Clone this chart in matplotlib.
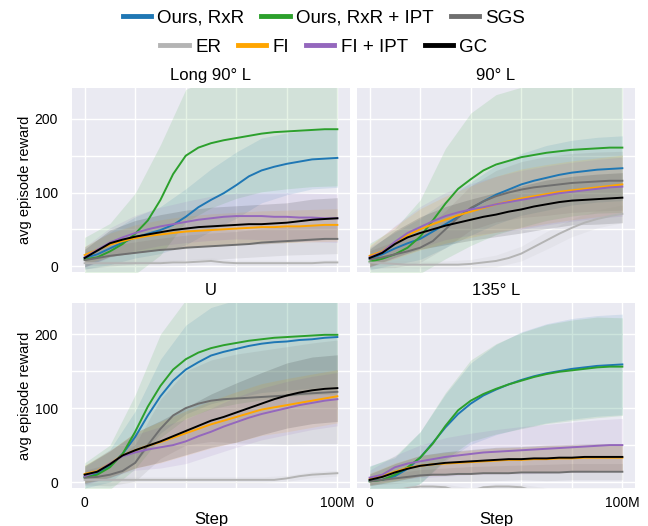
import matplotlib
matplotlib.use('Agg')
import matplotlib.pyplot as plt
from matplotlib.lines import Line2D
import numpy as np

plt.rcParams['font.family'] = ['Liberation Sans', 'DejaVu Sans']

# Steps in millions
STEPS = [0, 5, 10, 15, 20, 25, 30, 35, 40, 45, 50, 55, 60, 65, 70, 75, 80, 85, 90, 95, 100]
STD_STEPS = [0, 10, 20, 30, 40, 50, 60, 70, 80, 90, 100]

PANELS = ['Long 90° L', '90° L', 'U', '135° L']
METHODS = ['Ours, RxR', 'Ours, RxR + IPT', 'SGS', 'ER', 'FI', 'FI + IPT', 'GC']
COLORS = ['#1f77b4', '#2ca02c', '#6f6f6f', '#b4b4b4', '#ffa500', '#9467bd', '#000000']

# ─── Long 90° L ─────────────────────────────────────────────
LONG_RXR = [11, 16, 24, 32, 39, 44, 49, 56, 67, 80, 90, 99, 110, 122, 130, 135, 139, 142, 145, 146, 147]
LONG_IPT = [9, 12, 20, 30, 44, 62, 90, 125, 150, 161, 167, 171, 174, 177, 180, 182, 183, 184, 185, 186, 186]
LONG_SGS = [8, 11, 14, 16, 18, 20, 22, 23, 25, 26, 27, 28, 29, 30, 32, 33, 34, 35, 36, 37, 37]
LONG_ER = [4, 4, 4, 4, 4, 4, 4, 5, 5, 6, 7, 5, 4, 4, 4, 4, 4, 4, 4, 5, 5]
LONG_FI = [15, 22, 29, 34, 38, 41, 43, 45, 47, 48, 49, 50, 51, 52, 53, 53, 54, 54, 55, 56, 56]
LONG_FIIPT = [12, 22, 32, 39, 45, 50, 54, 57, 60, 63, 65, 67, 68, 68, 68, 67, 67, 66, 66, 65, 65]
LONG_GC = [11, 21, 31, 36, 40, 43, 46, 49, 51, 53, 54, 55, 56, 57, 57, 58, 59, 61, 63, 64, 65]

LONG_RXR_SD = [15, 22, 28, 32, 38, 42, 45, 44, 42, 40, 40]
LONG_IPT_SD = [30, 38, 55, 75, 90, 88, 82, 79, 78, 77, 77]
LONG_SGS_SD = [12, 14, 15, 16, 17, 18, 18, 19, 19, 20, 20]
LONG_ER_SD = [4, 4, 4, 4, 4, 4, 4, 4, 4, 4, 4]
LONG_FI_SD = [12, 16, 18, 20, 21, 22, 22, 22, 22, 22, 22]
LONG_FIIPT_SD = [14, 20, 24, 26, 28, 30, 31, 32, 33, 33, 33]
LONG_GC_SD = [12, 18, 22, 24, 25, 26, 26, 27, 27, 28, 28]

# ─── 90° L ──────────────────────────────────────────────────
L90_RXR = [10, 16, 24, 31, 37, 47, 57, 67, 78, 88, 97, 104, 111, 116, 120, 124, 127, 129, 131, 132, 133]
L90_IPT = [6, 10, 16, 25, 40, 62, 85, 105, 118, 130, 138, 143, 148, 151, 154, 156, 158, 159, 160, 161, 161]
L90_SGS = [9, 12, 16, 20, 25, 34, 50, 66, 79, 88, 95, 100, 104, 107, 109, 111, 113, 114, 115, 116, 116]
L90_ER = [5, 4, 3, 2, 2, 2, 2, 2, 3, 5, 7, 11, 17, 26, 35, 44, 52, 59, 64, 68, 71]
L90_FI = [14, 20, 32, 42, 50, 57, 63, 69, 74, 79, 84, 88, 92, 95, 98, 101, 103, 105, 107, 109, 111]
L90_FIIPT = [12, 19, 33, 45, 53, 61, 68, 73, 77, 80, 84, 87, 90, 93, 96, 99, 101, 103, 105, 107, 108]
L90_GC = [11, 18, 30, 39, 45, 50, 55, 59, 63, 67, 70, 74, 77, 81, 84, 87, 89, 90, 91, 92, 93]

L90_RXR_SD = [15, 22, 28, 32, 36, 40, 42, 44, 44, 44, 44]
L90_IPT_SD = [25, 35, 50, 75, 90, 95, 95, 92, 90, 88, 88]
L90_SGS_SD = [12, 18, 20, 25, 30, 35, 38, 40, 40, 40, 40]
L90_ER_SD = [5, 5, 5, 5, 6, 8, 10, 12, 12, 12, 12]
L90_FI_SD = [14, 22, 28, 32, 35, 38, 40, 40, 40, 40, 40]
L90_FIIPT_SD = [14, 22, 28, 32, 35, 38, 40, 40, 40, 40, 40]
L90_GC_SD = [12, 18, 22, 26, 28, 30, 32, 33, 33, 34, 34]

# ─── U ──────────────────────────────────────────────────────
U_RXR = [7, 12, 22, 38, 61, 90, 116, 137, 152, 162, 171, 176, 180, 184, 187, 189, 190, 192, 193, 195, 196]
U_IPT = [6, 10, 20, 38, 68, 102, 130, 152, 166, 175, 181, 185, 188, 191, 193, 195, 196, 197, 198, 199, 199]
U_SGS = [6, 7, 10, 15, 26, 50, 72, 90, 100, 106, 110, 112, 113, 114, 115, 116, 117, 119, 120, 121, 122]
U_ER = [3, 3, 3, 3, 3, 3, 3, 3, 3, 3, 3, 3, 3, 3, 3, 3, 5, 8, 10, 11, 12]
U_FI = [11, 15, 25, 36, 43, 49, 54, 60, 66, 72, 78, 83, 88, 93, 98, 101, 104, 107, 110, 113, 116]
U_FIIPT = [8, 14, 25, 35, 40, 44, 47, 50, 55, 62, 68, 75, 81, 87, 92, 96, 100, 104, 107, 110, 112]
U_GC = [10, 14, 24, 36, 43, 49, 55, 62, 69, 76, 83, 88, 94, 100, 106, 112, 117, 121, 124, 126, 127]

U_RXR_SD = [15, 22, 35, 50, 60, 65, 66, 66, 66, 66, 66]
U_IPT_SD = [20, 30, 50, 70, 80, 82, 82, 82, 80, 80, 80]
U_SGS_SD = [10, 15, 25, 40, 50, 55, 60, 63, 66, 68, 70]
U_ER_SD = [4, 4, 4, 4, 4, 4, 4, 4, 4, 4, 4]
U_FI_SD = [12, 18, 24, 28, 30, 32, 34, 35, 36, 36, 36]
U_FIIPT_SD = [12, 18, 24, 28, 30, 32, 34, 35, 36, 36, 36]
U_GC_SD = [12, 18, 24, 28, 32, 36, 40, 42, 44, 45, 45]

# ─── 135° L ─────────────────────────────────────────────────
L135_RXR = [2, 3, 8, 18, 33, 53, 74, 92, 106, 117, 125, 132, 138, 143, 147, 150, 153, 155, 157, 158, 159]
L135_IPT = [1, 3, 10, 20, 33, 52, 76, 97, 110, 119, 126, 132, 137, 142, 146, 149, 151, 153, 155, 156, 156]
L135_SGS = [1, 3, 5, 7, 9, 10, 10, 11, 11, 12, 12, 12, 13, 13, 13, 13, 14, 14, 14, 14, 14]
L135_ER = [-12, -12, -12, -8, -6, -6, -7, -12, -12, -7, -6, -6, -7, -12, -12, -12, -12, -12, -12, -12, -12]
L135_FI = [4, 8, 14, 19, 22, 24, 25, 26, 27, 28, 29, 30, 30, 31, 31, 32, 32, 33, 33, 33, 33]
L135_FIIPT = [6, 10, 20, 25, 28, 31, 34, 36, 38, 40, 41, 42, 43, 44, 45, 46, 47, 48, 49, 50, 50]
L135_GC = [3, 7, 13, 18, 22, 24, 26, 27, 28, 29, 30, 31, 31, 32, 32, 33, 33, 34, 34, 34, 34]

L135_RXR_SD = [20, 25, 35, 45, 55, 61, 65, 67, 68, 68, 68]
L135_IPT_SD = [20, 25, 35, 45, 55, 61, 65, 67, 68, 68, 66]
L135_SGS_SD = [5, 7, 8, 9, 10, 10, 10, 11, 11, 11, 11]
L135_ER_SD = [4, 4, 4, 4, 4, 4, 4, 4, 4, 4, 4]
L135_FI_SD = [8, 12, 14, 15, 16, 17, 17, 18, 18, 18, 18]
L135_FIIPT_SD = [10, 16, 22, 26, 28, 30, 32, 33, 34, 35, 36]
L135_GC_SD = [8, 12, 14, 15, 16, 17, 17, 18, 18, 18, 18]

MEANS = [
    [LONG_RXR, LONG_IPT, LONG_SGS, LONG_ER, LONG_FI, LONG_FIIPT, LONG_GC],
    [L90_RXR, L90_IPT, L90_SGS, L90_ER, L90_FI, L90_FIIPT, L90_GC],
    [U_RXR, U_IPT, U_SGS, U_ER, U_FI, U_FIIPT, U_GC],
    [L135_RXR, L135_IPT, L135_SGS, L135_ER, L135_FI, L135_FIIPT, L135_GC],
]
SDS = [
    [LONG_RXR_SD, LONG_IPT_SD, LONG_SGS_SD, LONG_ER_SD, LONG_FI_SD, LONG_FIIPT_SD, LONG_GC_SD],
    [L90_RXR_SD, L90_IPT_SD, L90_SGS_SD, L90_ER_SD, L90_FI_SD, L90_FIIPT_SD, L90_GC_SD],
    [U_RXR_SD, U_IPT_SD, U_SGS_SD, U_ER_SD, U_FI_SD, U_FIIPT_SD, U_GC_SD],
    [L135_RXR_SD, L135_IPT_SD, L135_SGS_SD, L135_ER_SD, L135_FI_SD, L135_FIIPT_SD, L135_GC_SD],
]

BG = '#EAEAF2'
W, H = 648, 526
fig = plt.figure(figsize=(W / 100, H / 100), dpi=100)

# axes boxes in pixels: left, top, width, height
BOXES = [(72, 88, 278, 184), (357, 88, 278, 184), (72, 303, 278, 185), (357, 303, 278, 185)]

for p, (title, box) in enumerate(zip(PANELS, BOXES)):
    l, t, w, h = box
    ax = fig.add_axes([l / W, 1 - (t + h) / H, w / W, h / H])
    ax.set_facecolor(BG)
    for s in ax.spines.values():
        s.set_visible(False)
    ax.grid(True, color='white', lw=1.0)
    ax.set_axisbelow(True)

    x = np.array(STEPS)
    xs = np.array(STD_STEPS)
    for m in range(len(METHODS)):
        mean_coarse = np.array(MEANS[p][m])[::2]
        sd = np.array(SDS[p][m])
        ax.fill_between(xs, mean_coarse - sd, mean_coarse + sd,
                        color=COLORS[m], alpha=0.12, lw=0)
    for m in range(len(METHODS)):
        ax.plot(x, MEANS[p][m], color=COLORS[m], lw=1.4)

    ax.set_ylim(-8, 242)
    ax.set_xticks([0, 20, 40, 60, 80, 100])
    ax.set_yticks([0, 50, 100, 150, 200])
    ax.tick_params(length=0, labelsize=10, pad=10)
    ax.set_title(title, fontsize=12, pad=6)

    if p % 2 == 0:
        ax.set_yticklabels(['0', '', '100', '', '200'])
        ax.set_ylabel('avg episode reward', fontsize=10.5, labelpad=2)
    else:
        ax.set_yticklabels([])
    if p >= 2:
        ax.set_xticklabels(['0', '', '', '', '', '100M'])
        ax.tick_params(axis='x', pad=6)
        ax.set_xlabel('Step', fontsize=12, labelpad=1)
    else:
        ax.set_xticklabels([])

handles = [Line2D([0], [0], color=c, lw=3.5) for c in COLORS]
common = dict(frameon=False, fontsize=13.5, handlelength=1.5,
              handletextpad=0.35, columnspacing=0.9, loc='center')
fig.legend(handles[:3], METHODS[:3], ncol=3, bbox_to_anchor=(0.5, 1 - 18 / H), **common)
fig.legend(handles[3:], METHODS[3:], ncol=4, bbox_to_anchor=(0.5, 1 - 47 / H), **common)

fig.savefig('out.png', dpi=100, facecolor='white')
